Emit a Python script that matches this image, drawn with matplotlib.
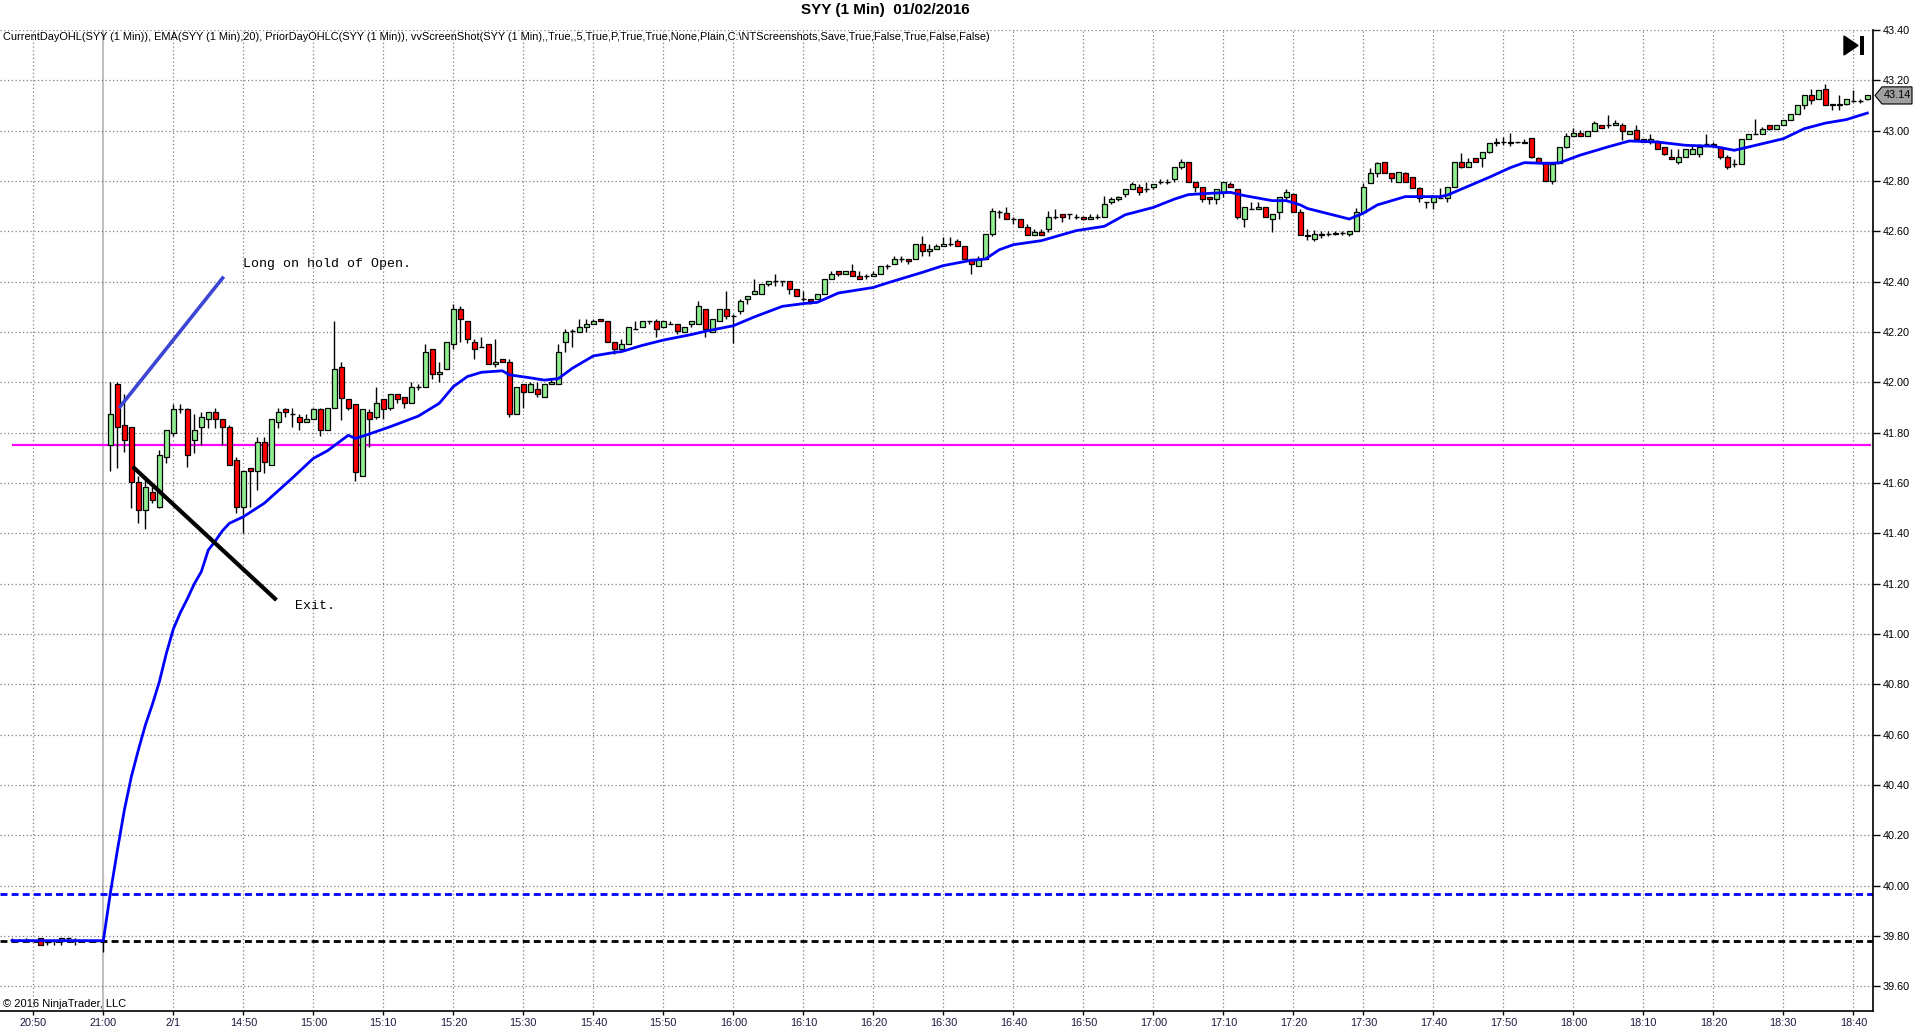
import numpy as np
import matplotlib
matplotlib.use("Agg")
import matplotlib.pyplot as plt
from matplotlib.patches import Polygon, Rectangle
from matplotlib.transforms import blended_transform_factory

plt.rcParams['font.family'] = ['Liberation Sans', 'DejaVu Sans']

# bar offsets from the 21:00 bar (prior session <= 0, new session 1..252)
bars = list(range(-13, 253))

# OHLC
opens = [39.784, 39.784, 39.784, 39.782, 39.793, 39.777, 39.779, 39.780, 39.791, 39.784, 39.780, 39.780, 39.780, 39.780,
         41.75, 41.992, 41.829, 41.823, 41.603, 41.491, 41.564, 41.503, 41.703, 41.80,
         41.894, 41.893, 41.77, 41.823, 41.853, 41.881, 41.853, 41.823, 41.69, 41.503,
         41.661, 41.649, 41.762, 41.671, 41.841, 41.893, 41.873, 41.862, 41.841, 41.853,
         41.893, 41.809, 41.90, 42.06, 41.934, 41.913, 41.63, 41.881, 41.862, 41.934,
         41.90, 41.952, 41.94, 41.92, 41.98, 41.98, 42.131, 42.032, 42.052, 42.152,
         42.29, 42.242, 42.159, 42.139, 42.151, 42.072, 42.091, 42.079, 41.873, 41.992,
         41.96, 41.972, 41.94, 41.992, 41.992, 42.159, 42.204, 42.199, 42.219, 42.23,
         42.25, 42.242, 42.159, 42.131, 42.151, 42.211, 42.219, 42.242, 42.242, 42.219,
         42.23, 42.23, 42.199, 42.23, 42.232, 42.291, 42.20, 42.244, 42.291, 42.264,
         42.283, 42.331, 42.351, 42.351, 42.391, 42.403, 42.403, 42.403, 42.371, 42.331,
         42.331, 42.331, 42.351, 42.411, 42.442, 42.43, 42.442, 42.423, 42.423, 42.423,
         42.43, 42.462, 42.47, 42.49, 42.49, 42.49, 42.55, 42.522, 42.53, 42.542,
         42.55, 42.562, 42.542, 42.49, 42.462, 42.49, 42.589, 42.675, 42.672, 42.649,
         42.649, 42.616, 42.585, 42.599, 42.609, 42.656, 42.669, 42.669, 42.656, 42.656,
         42.649, 42.656, 42.656, 42.715, 42.728, 42.748, 42.768, 42.777, 42.768, 42.777,
         42.795, 42.795, 42.808, 42.857, 42.874, 42.795, 42.775, 42.738, 42.728, 42.755,
         42.788, 42.768, 42.649, 42.689, 42.689, 42.698, 42.649, 42.675, 42.735, 42.748,
         42.675, 42.585, 42.57, 42.585, 42.59, 42.59, 42.595, 42.59, 42.60, 42.678,
         42.791, 42.83, 42.877, 42.83, 42.797, 42.83, 42.817, 42.771, 42.718, 42.718,
         42.734, 42.734, 42.777, 42.877, 42.857, 42.89, 42.89, 42.917, 42.956, 42.956,
         42.956, 42.956, 42.95, 42.97, 42.89, 42.877, 42.80, 42.87, 42.936, 42.979,
         42.99, 42.979, 43.00, 43.022, 43.022, 43.021, 43.021, 42.988, 43.001, 42.968,
         42.955, 42.955, 42.935, 42.895, 42.875, 42.895, 42.909, 42.909, 42.948, 42.948,
         42.935, 42.895, 42.866, 42.869, 42.968, 42.988, 42.988, 43.021, 43.008, 43.021,
         43.041, 43.068, 43.101, 43.14, 43.127, 43.167, 43.107, 43.101, 43.107, 43.118,
         43.118, 43.127]
highs = [39.793, 39.790, 39.793, 39.784, 39.793, 39.779, 39.780, 39.793, 39.793, 39.791, 39.782, 39.781, 39.781, 39.780,
         42.00, 42.00, 41.952, 41.823, 41.63, 41.63, 41.585, 41.731, 41.809, 41.914,
         41.914, 41.90, 41.873, 41.883, 41.881, 41.90, 41.853, 41.829, 41.703, 41.649,
         41.661, 41.783, 41.783, 41.853, 41.90, 41.90, 41.90, 41.873, 41.873, 41.90,
         41.90, 41.90, 42.244, 42.082, 41.934, 41.913, 41.893, 41.893, 41.98, 41.934,
         41.952, 41.952, 41.94, 42.00, 41.992, 42.152, 42.131, 42.079, 42.159, 42.311,
         42.303, 42.242, 42.171, 42.179, 42.151, 42.171, 42.091, 42.091, 41.98, 41.992,
         42.00, 42.00, 41.992, 42.012, 42.151, 42.211, 42.211, 42.25, 42.25, 42.25,
         42.25, 42.242, 42.159, 42.171, 42.219, 42.242, 42.242, 42.242, 42.25, 42.242,
         42.242, 42.23, 42.219, 42.242, 42.325, 42.291, 42.252, 42.291, 42.364, 42.272,
         42.331, 42.343, 42.411, 42.391, 42.403, 42.43, 42.403, 42.403, 42.371, 42.363,
         42.331, 42.351, 42.411, 42.442, 42.442, 42.442, 42.47, 42.442, 42.43, 42.442,
         42.462, 42.47, 42.502, 42.502, 42.49, 42.55, 42.583, 42.55, 42.55, 42.577,
         42.577, 42.57, 42.542, 42.49, 42.502, 42.589, 42.693, 42.684, 42.698, 42.658,
         42.649, 42.629, 42.609, 42.609, 42.679, 42.689, 42.669, 42.669, 42.669, 42.662,
         42.669, 42.669, 42.742, 42.735, 42.742, 42.768, 42.795, 42.788, 42.795, 42.788,
         42.808, 42.808, 42.857, 42.887, 42.874, 42.795, 42.775, 42.738, 42.768, 42.795,
         42.795, 42.768, 42.695, 42.715, 42.715, 42.698, 42.669, 42.735, 42.768, 42.748,
         42.689, 42.61, 42.605, 42.60, 42.60, 42.60, 42.60, 42.60, 42.691, 42.791,
         42.85, 42.877, 42.877, 42.83, 42.837, 42.837, 42.817, 42.777, 42.718, 42.744,
         42.771, 42.777, 42.877, 42.91, 42.89, 42.89, 42.917, 42.95, 42.97, 42.976,
         42.99, 42.956, 42.966, 42.97, 42.897, 42.877, 42.866, 42.936, 42.99, 43.009,
         43.003, 43.00, 43.04, 43.022, 43.062, 43.041, 43.03, 42.999, 43.021, 42.968,
         42.988, 42.962, 42.935, 42.928, 42.928, 42.928, 42.942, 42.948, 42.988, 42.955,
         42.935, 42.902, 42.889, 42.968, 42.988, 43.048, 43.015, 43.021, 43.021, 43.041,
         43.068, 43.101, 43.14, 43.167, 43.16, 43.187, 43.107, 43.14, 43.127, 43.16,
         43.124, 43.14]
lows = [39.777, 39.780, 39.779, 39.780, 39.763, 39.763, 39.763, 39.763, 39.780, 39.763, 39.779, 39.779, 39.779, 39.735,
        41.648, 41.661, 41.725, 41.499, 41.44, 41.419, 41.52, 41.50, 41.681, 41.788,
        41.877, 41.662, 41.72, 41.751, 41.818, 41.818, 41.751, 41.671, 41.482, 41.40,
        41.503, 41.572, 41.641, 41.671, 41.818, 41.862, 41.823, 41.809, 41.841, 41.853,
        41.788, 41.809, 41.90, 41.85, 41.89, 41.609, 41.63, 41.744, 41.853, 41.853,
        41.89, 41.919, 41.90, 41.92, 41.97, 41.98, 42.012, 42.00, 42.052, 42.131,
        42.159, 42.155, 42.091, 42.139, 42.072, 42.06, 42.079, 41.861, 41.873, 41.90,
        41.96, 41.94, 41.94, 41.992, 41.992, 42.119, 42.139, 42.199, 42.199, 42.23,
        42.242, 42.159, 42.111, 42.119, 42.151, 42.211, 42.219, 42.23, 42.179, 42.219,
        42.23, 42.191, 42.199, 42.219, 42.232, 42.18, 42.20, 42.244, 42.252, 42.156,
        42.272, 42.311, 42.351, 42.351, 42.383, 42.383, 42.383, 42.351, 42.343, 42.323,
        42.311, 42.331, 42.351, 42.411, 42.423, 42.43, 42.423, 42.411, 42.411, 42.423,
        42.43, 42.45, 42.47, 42.478, 42.47, 42.49, 42.502, 42.502, 42.53, 42.542,
        42.542, 42.542, 42.49, 42.43, 42.462, 42.49, 42.581, 42.655, 42.649, 42.629,
        42.619, 42.585, 42.585, 42.585, 42.599, 42.649, 42.638, 42.649, 42.649, 42.645,
        42.649, 42.649, 42.656, 42.709, 42.722, 42.735, 42.768, 42.746, 42.758, 42.768,
        42.788, 42.788, 42.795, 42.848, 42.795, 42.755, 42.715, 42.709, 42.709, 42.735,
        42.775, 42.649, 42.616, 42.689, 42.689, 42.658, 42.599, 42.649, 42.722, 42.675,
        42.585, 42.565, 42.56, 42.575, 42.58, 42.585, 42.585, 42.58, 42.60, 42.678,
        42.791, 42.817, 42.83, 42.797, 42.797, 42.797, 42.771, 42.718, 42.691, 42.687,
        42.734, 42.718, 42.777, 42.85, 42.857, 42.877, 42.857, 42.91, 42.94, 42.943,
        42.94, 42.95, 42.95, 42.89, 42.877, 42.80, 42.79, 42.87, 42.93, 42.979,
        42.979, 42.979, 43.00, 43.009, 43.009, 43.021, 42.962, 42.988, 42.968, 42.955,
        42.948, 42.928, 42.902, 42.889, 42.869, 42.895, 42.909, 42.895, 42.948, 42.935,
        42.889, 42.849, 42.856, 42.869, 42.968, 42.988, 42.988, 43.001, 43.008, 43.021,
        43.041, 43.068, 43.087, 43.107, 43.127, 43.101, 43.081, 43.081, 43.101, 43.114,
        43.111, 43.121]
closes = [39.784, 39.784, 39.784, 39.782, 39.763, 39.777, 39.779, 39.793, 39.791, 39.784, 39.780, 39.780, 39.780, 39.780,
          41.873, 41.823, 41.770, 41.603, 41.491, 41.583, 41.531, 41.71, 41.809, 41.893,
          41.894, 41.71, 41.809, 41.862, 41.881, 41.853, 41.823, 41.671, 41.503, 41.649,
          41.649, 41.762, 41.682, 41.853, 41.881, 41.881, 41.873, 41.841, 41.853, 41.893,
          41.809, 41.90, 42.052, 41.936, 41.90, 41.642, 41.893, 41.853, 41.919, 41.893,
          41.952, 41.932, 41.92, 41.98, 41.98, 42.119, 42.032, 42.04, 42.159, 42.29,
          42.25, 42.171, 42.131, 42.139, 42.072, 42.079, 42.079, 41.873, 41.98, 41.96,
          41.992, 41.952, 41.992, 42.00, 42.119, 42.199, 42.204, 42.219, 42.23, 42.242,
          42.242, 42.159, 42.131, 42.151, 42.219, 42.211, 42.242, 42.242, 42.211, 42.242,
          42.23, 42.204, 42.219, 42.242, 42.303, 42.212, 42.252, 42.291, 42.264, 42.264,
          42.323, 42.343, 42.363, 42.391, 42.403, 42.403, 42.403, 42.371, 42.343, 42.331,
          42.323, 42.351, 42.411, 42.43, 42.43, 42.442, 42.423, 42.411, 42.423, 42.43,
          42.462, 42.462, 42.49, 42.49, 42.482, 42.55, 42.522, 42.53, 42.542, 42.55,
          42.55, 42.542, 42.49, 42.47, 42.49, 42.589, 42.679, 42.675, 42.649, 42.649,
          42.619, 42.585, 42.599, 42.585, 42.656, 42.656, 42.658, 42.669, 42.656, 42.649,
          42.656, 42.656, 42.709, 42.728, 42.738, 42.768, 42.788, 42.755, 42.768, 42.788,
          42.795, 42.795, 42.857, 42.874, 42.795, 42.775, 42.728, 42.728, 42.768, 42.795,
          42.777, 42.656, 42.695, 42.689, 42.698, 42.658, 42.669, 42.735, 42.755, 42.675,
          42.585, 42.58, 42.59, 42.59, 42.59, 42.595, 42.595, 42.60, 42.678, 42.777,
          42.83, 42.87, 42.83, 42.81, 42.837, 42.797, 42.771, 42.731, 42.718, 42.738,
          42.734, 42.777, 42.877, 42.857, 42.877, 42.877, 42.917, 42.95, 42.95, 42.956,
          42.95, 42.956, 42.956, 42.897, 42.877, 42.80, 42.866, 42.936, 42.979, 42.99,
          42.979, 43.00, 43.029, 43.009, 43.022, 43.03, 42.999, 42.999, 42.968, 42.955,
          42.968, 42.928, 42.909, 42.889, 42.895, 42.928, 42.928, 42.935, 42.948, 42.938,
          42.895, 42.856, 42.866, 42.968, 42.988, 42.988, 43.008, 43.008, 43.021, 43.041,
          43.068, 43.101, 43.14, 43.121, 43.16, 43.101, 43.101, 43.107, 43.127, 43.118,
          43.118, 43.14]

# EMA(20) as traced on the chart
ema_bars = [-13, 0, 1, 2, 3, 4, 5, 6, 7, 8, 9, 10, 11, 12, 13, 14, 15, 16, 17, 18, 20, 23, 27, 30,
            32, 35, 36, 38, 41, 45, 48, 50, 52, 54, 57, 58, 61, 63, 65, 67, 70, 73, 74, 77, 80,
            84, 86, 90, 93, 97, 100, 102, 105, 110, 112, 117, 120, 124, 126, 128, 130, 134, 139,
            143, 146, 150, 153, 155, 158, 161, 163, 167, 169, 171, 172, 176, 178, 180, 182, 186,
            191, 192, 198, 201, 203, 206, 208, 211, 215, 218, 222, 226, 230, 233, 235, 240, 243,
            246, 249, 252]
ema_vals = [39.782, 39.782, 39.97, 40.14, 40.30, 40.433, 40.539, 40.638, 40.72, 40.81, 40.923, 41.02,
            41.085, 41.14, 41.20, 41.248, 41.334, 41.37, 41.41, 41.44, 41.466, 41.52, 41.62, 41.698,
            41.728, 41.79, 41.777, 41.795, 41.824, 41.866, 41.917, 41.983, 42.023, 42.04, 42.046,
            42.03, 42.018, 42.009, 42.015, 42.056, 42.105, 42.119, 42.122, 42.147, 42.168, 42.19,
            42.203, 42.225, 42.26, 42.302, 42.313, 42.318, 42.355, 42.377, 42.395, 42.437, 42.464,
            42.485, 42.49, 42.527, 42.547, 42.563, 42.603, 42.62, 42.666, 42.695, 42.728, 42.746,
            42.751, 42.755, 42.742, 42.722, 42.722, 42.705, 42.691, 42.663, 42.649, 42.672, 42.705,
            42.738, 42.738, 42.744, 42.815, 42.853, 42.873, 42.87, 42.872, 42.903, 42.936, 42.959,
            42.955, 42.942, 42.938, 42.922, 42.935, 42.968, 43.008, 43.03, 43.044, 43.07]

current_open = 41.75
prior_high = 39.967
prior_close = 39.782

tick_bars = list(range(-10, 251, 10))
tick_labels = ["20:50", "21:00", "2/1", "14:50", "15:00", "15:10", "15:20", "15:30", "15:40", "15:50",
               "16:00", "16:10", "16:20", "16:30", "16:40", "16:50", "17:00", "17:10", "17:20", "17:30",
               "17:40", "17:50", "18:00", "18:10", "18:20", "18:30", "18:40"]

W, H = 1920, 1034
fig = plt.figure(figsize=(W / 100, H / 100), dpi=100)
ax = fig.add_axes([0.0, 0.0226, 0.9757, 0.971 - 0.0226])

x = np.array(bars, dtype=float)
o = np.array(opens)
h = np.array(highs)
l = np.array(lows)
c = np.array(closes)

# session break and grid
ax.axvline(0, color='#c0c0c0', lw=1.5, zorder=1)
for tb in tick_bars:
    if tb != 0:
        ax.axvline(tb, color='#808080', lw=0.9, ls=(0, (1, 2)), zorder=1)
for yv in np.arange(39.6, 43.41, 0.2):
    ax.axhline(yv, color='#808080', lw=0.9, ls=(0, (1, 2)), zorder=1)

# prior day / current day levels
ax.axhline(prior_high, color='#0000ff', lw=2, ls=(0, (2.5, 1.5)), zorder=2)
ax.axhline(prior_close, color='black', lw=2, ls=(0, (2.5, 1.5)), zorder=2)
ax.hlines(current_open, -13, 252.5, color='#ff00ff', lw=1.6, zorder=2)

# candles
ax.vlines(x, l, h, color='black', lw=1, zorder=3)
up = c > o
dn = c < o
eq = ~(up | dn)
ax.bar(x[up], c[up] - o[up], bottom=o[up], width=0.72, color='#90ee90',
       edgecolor='black', linewidth=0.9, zorder=4)
ax.bar(x[dn], o[dn] - c[dn], bottom=c[dn], width=0.72, color='#ff0000',
       edgecolor='black', linewidth=0.9, zorder=4)
ax.hlines(c[eq], x[eq] - 0.36, x[eq] + 0.36, color='black', lw=1, zorder=4)

# EMA
ax.plot(ema_bars, ema_vals, color='#0000ff', lw=2, zorder=5)

# hand-drawn annotations
ax.plot([2.24, 17.2], [41.898, 42.42], color='#3c46d4', lw=2.6, zorder=6, solid_capstyle='butt')
ax.plot([4.2, 24.74], [41.665, 41.135], color='black', lw=3, zorder=6, solid_capstyle='butt')
ax.text(20.0, 42.469, "Long on hold of Open.", family=['Liberation Mono', 'DejaVu Sans Mono'],
        fontsize=9.5, va='center', ha='left', zorder=7)
ax.text(27.4, 41.11, "Exit.", family=['Liberation Mono', 'DejaVu Sans Mono'],
        fontsize=9.5, va='center', ha='left', zorder=7)

ax.set_xlim(-14.76, 252.86)
ax.set_ylim(39.504, 43.40)

for s in ['top', 'left']:
    ax.spines[s].set_visible(False)
ax.spines['right'].set_linewidth(1.2)
ax.spines['bottom'].set_linewidth(1.2)
ax.yaxis.tick_right()
ax.set_yticks(np.arange(39.6, 43.41, 0.2))
ax.set_yticklabels([f"{v:.2f}" for v in np.arange(39.6, 43.41, 0.2)])
ax.set_xticks(tick_bars)
ax.set_xticklabels(tick_labels)
ax.tick_params(axis='y', direction='out', length=5, width=1, labelsize=7.8, pad=2, colors='black')
ax.tick_params(axis='x', direction='out', length=3, width=1, labelsize=7.8, pad=2, colors='black')
for lab in ax.get_xticklabels():
    lab.set_color('#1a1a40')

# last price marker
tr = blended_transform_factory(fig.transFigure, ax.transData)
last = closes[-1]
dy = 0.034
px = lambda v: v / W
marker = Polygon([[px(1875), last], [px(1882), last + dy], [px(1912), last + dy],
                  [px(1912), last - dy], [px(1882), last - dy]], closed=True,
                 transform=tr, facecolor='#a0a0a0', edgecolor='black', lw=0.8, clip_on=False)
fig.add_artist(marker)
fig.text(px(1897), last, f"{last:.2f}", transform=tr, ha='center', va='center',
         fontsize=7.8, color='black')

# play/end icon
tri = Polygon([[px(1844), 1 - 36 / H], [px(1844), 1 - 55 / H], [px(1858), 1 - 45.5 / H]],
              closed=True, transform=fig.transFigure, facecolor='black', edgecolor='black')
fig.add_artist(tri)
fig.add_artist(Rectangle((px(1860), 1 - 55 / H), 3.5 / W, 19 / H, transform=fig.transFigure,
                         facecolor='black', edgecolor='none'))

# header texts
fig.text(885 / W, 1 - 10 / H, "SYY (1 Min)  01/02/2016", ha='center', va='center',
         fontsize=11, fontweight='bold', family=['Liberation Sans Narrow', 'Liberation Sans', 'DejaVu Sans'])
fig.text(3 / W, 1 - 37 / H,
         "CurrentDayOHL(SYY (1 Min)), EMA(SYY (1 Min),20), PriorDayOHLC(SYY (1 Min)), "
         "vvScreenShot(SYY (1 Min),,True,,5,True,P,True,True,None,Plain,C:\\NTScreenshots,Save,True,False,True,False,False)",
         ha='left', va='center', fontsize=7.9,
         family=['Liberation Sans Narrow', 'Liberation Sans', 'DejaVu Sans'])
fig.text(3 / W, 1 - 1004 / H, "\u00a9 2016 NinjaTrader, LLC", ha='left', va='center', fontsize=8)

fig.savefig("out.png", dpi=100, facecolor='white')
